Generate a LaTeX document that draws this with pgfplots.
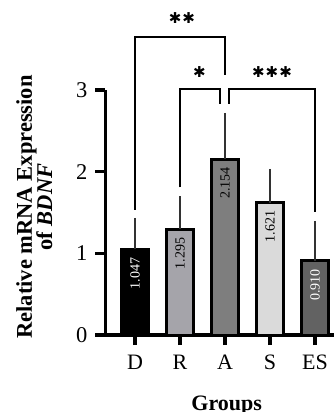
\documentclass[border=0pt]{standalone}
\usepackage{pgfplots}
\pgfplotsset{compat=1.18}
\usepackage{fontspec}
\setmainfont{Liberation Serif}
\newfontfamily\djv{DejaVu Sans}
\definecolor{cD}{RGB}{0,0,0}
\definecolor{cR}{RGB}{165,164,170}
\definecolor{cA}{RGB}{126,126,126}
\definecolor{cS}{RGB}{218,218,218}
\definecolor{cE}{RGB}{98,98,98}
\definecolor{errc}{RGB}{50,50,50}
\begin{document}
\begin{tikzpicture}
\useasboundingbox (-135pt,-77pt) rectangle (199pt,335pt);
\begin{axis}[
  anchor=origin, at={(0pt,0pt)},
  x=45pt, y=81.67pt,
  xmin=-0.656, xmax=4.422, ymin=0, ymax=3,
  axis x line=bottom, axis y line=left,
  axis line style={line width=3.3pt, -},
  clip=false,
  xtick={0,1,2,3,4}, xticklabels={D,R,A,S,ES},
  ytick={0,1,2,3},
  tick align=outside,
  major tick length=10pt,
  tick style={line width=3.3pt, black},
  xticklabel style={font=\fontsize{22}{26}\selectfont, anchor=north, inner sep=0pt, yshift=-10pt},
  yticklabel style={font=\fontsize{22.5}{26}\selectfont, anchor=east, inner sep=0pt, xshift=-8pt},
  /pgf/number format/assume math mode=true,
  every axis plot/.append style={ybar, bar width=26.5pt, bar shift=0pt, draw=black, line width=3pt,
    /pgfplots/error bars/y dir=plus, /pgfplots/error bars/y explicit,
    /pgfplots/error bars/error bar style={line width=1.2pt, draw=errc},
    /pgfplots/error bars/error mark options={line width=1.2pt, mark size=5.5pt, draw=errc}},
]
\addplot[fill=cD] coordinates {(0,1.047) +- (0,0.321)};
\addplot[fill=cR] coordinates {(1,1.295) +- (0,0.337)};
\addplot[fill=cA] coordinates {(2,2.154) +- (0,0.499)};
\addplot[fill=cS] coordinates {(3,1.621) +- (0,0.347)};
\addplot[fill=cE] coordinates {(4,0.910) +- (0,0.421)};

\begin{scope}[every node/.style={rotate=90, anchor=east, inner sep=0pt, font=\fontsize{14}{16}\selectfont}]
\node[text=white] at (axis cs:0,0.947) {1.047};
\node[text=black] at (axis cs:1,1.195) {1.295};
\node[text=black] at (axis cs:2,2.054) {2.154};
\node[text=black] at (axis cs:3,1.521) {1.621};
\node[text=white] at (axis cs:4,0.810) {0.910};
\end{scope}

\begin{scope}[line width=2.3pt, line join=miter]
\draw (axis cs:0,1.531) |- (axis cs:2,3.645) -- (axis cs:2,3.184);
\draw (axis cs:1,1.808) |- (axis cs:1.889,3.008) -- (axis cs:1.889,2.829);
\draw (axis cs:2.089,2.829) -- (axis cs:2.089,3.008) -| (axis cs:4,1.51);
\end{scope}

\node[font=\djv\fontsize{15}{15}\selectfont, inner sep=0pt] at (axis cs:1.044,3.875) {✱\kern1pt✱};
\node[font=\djv\fontsize{15}{15}\selectfont, inner sep=0pt] at (axis cs:1.433,3.22) {✱};
\node[font=\djv\fontsize{15}{15}\selectfont, inner sep=0pt] at (axis cs:3.044,3.22) {✱\kern1pt✱\kern1pt✱};

\node[rotate=90, anchor=base, inner sep=0pt, font=\bfseries\fontsize{22.5}{22.5}\selectfont] at (axis cs:-2.289,1.567) {Relative mRNA Expression};
\node[rotate=90, anchor=base, inner sep=0pt, font=\bfseries\fontsize{22.5}{22.5}\selectfont] at (axis cs:-1.844,1.567) {of \textit{BDNF}};
\node[anchor=base, inner sep=0pt, font=\bfseries\fontsize{22}{22}\selectfont] at (axis cs:2.037,-0.926) {Groups};
\end{axis}
\end{tikzpicture}
\end{document}
